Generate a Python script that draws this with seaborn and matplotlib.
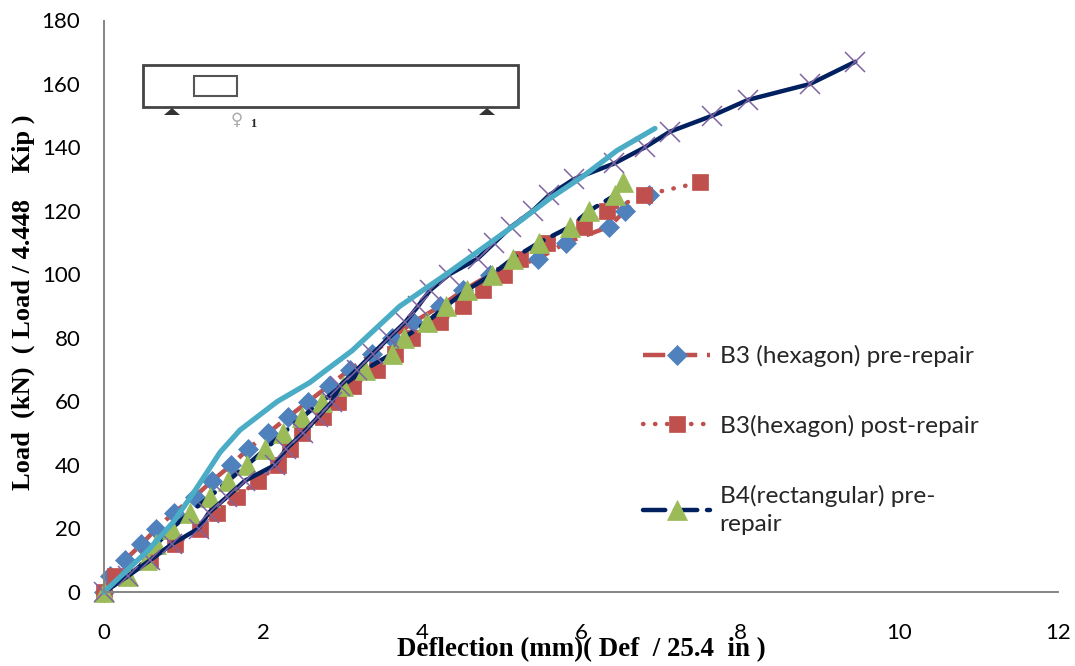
import matplotlib
matplotlib.use("Agg")
import matplotlib.pyplot as plt
import seaborn as sns
from matplotlib.patches import Polygon, Rectangle

# load steps are 5 kN up to the last reading
load_pre = [0, 5, 10, 15, 20, 25, 30, 35, 40, 45, 50, 55, 60, 65, 70, 75, 80, 85, 90, 95, 100, 105, 110, 115, 120, 125]
b3_pre_def = [0, 0.08, 0.26, 0.47, 0.66, 0.88, 1.14, 1.36, 1.6, 1.81, 2.06, 2.31, 2.57, 2.83, 3.09, 3.37, 3.62, 3.89, 4.23, 4.52, 4.86, 5.46, 5.81, 6.35, 6.55, 6.85]

load_post = [0, 5, 10, 15, 20, 25, 30, 35, 40, 45, 50, 55, 60, 65, 70, 75, 80, 85, 90, 95, 100, 105, 110, 115, 120, 125, 129]
b3_post_def = [0, 0.14, 0.58, 0.89, 1.21, 1.42, 1.67, 1.94, 2.19, 2.34, 2.49, 2.75, 2.94, 3.13, 3.43, 3.66, 3.87, 4.23, 4.52, 4.77, 5.03, 5.23, 5.57, 6.04, 6.33, 6.79, 7.5]

load_b4 = [0, 5, 10, 15, 20, 25, 30, 35, 40, 45, 50, 55, 60, 65, 70, 75, 80, 85, 90, 95, 100, 105, 110, 115, 120, 125, 129]
b4_pre_def = [0, 0.30, 0.54, 0.66, 0.85, 1.08, 1.33, 1.56, 1.8, 2.03, 2.25, 2.49, 2.74, 3.0, 3.28, 3.62, 3.77, 4.06, 4.3, 4.56, 4.88, 5.14, 5.47, 5.86, 6.1, 6.43, 6.53]

load_b4_post = [0, 5, 10, 15, 20, 25, 30, 35, 40, 45, 50, 55, 60, 65, 70, 75, 80, 85, 90, 95, 100, 105, 110, 115, 120, 125, 130, 135, 140, 145, 150, 155, 160, 167]
b4_post_def = [0, 0.30, 0.58, 0.85, 1.19, 1.32, 1.55, 1.77, 2.15, 2.29, 2.5, 2.69, 2.87, 2.97, 3.18, 3.38, 3.58, 3.79, 3.95, 4.1, 4.34, 4.7, 4.91, 5.12, 5.39, 5.6, 5.91, 6.42, 6.8, 7.12, 7.65, 8.1, 8.88, 9.45]

teal_load = [0, 13, 22, 31, 44, 51, 60, 66, 70, 76, 90, 100, 107, 116, 124, 131, 139, 146]
teal_def = [0, 0.55, 0.87, 1.12, 1.46, 1.71, 2.18, 2.59, 2.8, 3.12, 3.72, 4.3, 4.69, 5.19, 5.61, 6.03, 6.45, 6.93]

x_ticks = [0, 2, 4, 6, 8, 10, 12]
y_ticks = list(range(0, 181, 20))

sns.set_theme(style="white")
plt.rcParams['font.family'] = ['Lato', 'DejaVu Sans']

fig = plt.figure(figsize=(10.75, 6.66), dpi=100)
ax = fig.add_axes([104 / 1075, 1 - 592 / 666, 954 / 1075, 571.5 / 666])

red = "#C0504D"
navy = "#002060"

sns.lineplot(x=b3_pre_def, y=load_pre, ax=ax, sort=False, estimator=None, color=red, lw=3.2,
             marker="D", ms=10, mfc="#4F81BD", mec="#4F81BD", mew=0.5, dashes=(5, 2.2),
             label="B3 (hexagon) pre-repair", clip_on=False)
sns.lineplot(x=b3_post_def, y=load_post, ax=ax, sort=False, estimator=None, color=red, lw=3.2,
             marker="s", ms=11, mfc=red, mec=red, mew=0.5, dashes=(0.1, 2.6), dash_capstyle="round",
             label="B3(hexagon) post-repair", clip_on=False)
sns.lineplot(x=b4_pre_def, y=load_b4, ax=ax, sort=False, estimator=None, color=navy, lw=3.2,
             marker="^", ms=15, mfc="#9BBB59", mec="#9BBB59", mew=0.5, dashes=(5, 2.2), dash_capstyle="round",
             label="B4(rectangular) pre-\nrepair", clip_on=False)
sns.lineplot(x=b4_post_def, y=load_b4_post, ax=ax, sort=False, estimator=None, color=navy, lw=3.2,
             marker="x", ms=14, mec="#8064A2", mew=1.1, label="_b4 post", clip_on=False)
sns.lineplot(x=teal_def, y=teal_load, ax=ax, sort=False, estimator=None, color="#4BACC6", lw=3.8,
             label="_teal", clip_on=False)

ax.set_xlim(0, 12)
ax.set_ylim(0, 180)
ax.set_xticks(x_ticks)
ax.set_yticks(y_ticks)
ax.tick_params(axis="x", length=0, pad=22, labelsize=16, colors="black")
ax.tick_params(axis="y", length=0, pad=17, labelsize=16, colors="black")
sns.despine(ax=ax)
for s in ["left", "bottom"]:
    ax.spines[s].set_color("#868686")
    ax.spines[s].set_linewidth(1.4)

serif = ["Liberation Serif", "DejaVu Serif"]
fig.text(581 / 1075, 1 - 650 / 666, "Deflection (mm)( Def  / 25.4  in )", family=serif, weight="bold",
         fontsize=19.4, ha="center", va="center", color="black")
fig.text(23 / 1075, 1 - 302 / 666, "Load  (kN)  ( Load / 4.448    Kip )", family=serif, weight="bold",
         fontsize=19, rotation=90, ha="center", va="center", color="black")

leg = ax.legend(loc="upper left", bbox_to_anchor=(643 / 1075, 1 - 345 / 666), bbox_transform=fig.transFigure,
                frameon=False, fontsize=17.6, labelspacing=1.95, handlelength=2.75, handletextpad=0.38,
                borderpad=0, borderaxespad=0)
for t in leg.get_texts():
    t.set_linespacing(1.45)

# beam sketch in the upper left corner, placed in figure pixels
def px(x, y):
    return x / 1075, 1 - y / 666

tf = fig.transFigure
fig.add_artist(Rectangle(px(142.5, 107), 375 / 1075, 42 / 666, transform=tf, fill=False, ec="#444444", lw=2))
fig.add_artist(Rectangle(px(194, 96), 43 / 1075, 20 / 666, transform=tf, fill=False, ec="#555555", lw=1.5))
for cx in [172, 487]:
    fig.add_artist(Polygon([px(cx - 8, 115), px(cx + 8, 115), px(cx, 108)], transform=tf, fc="#333333", ec="none"))
fig.text(*px(237, 120), "\u2640", color="#aaaaaa", fontsize=12, ha="center", va="center", family="DejaVu Sans")
fig.text(*px(253, 124), "1", family=serif, weight="bold", fontsize=9, ha="center", va="center", color="#222222")

fig.savefig("out.png", dpi=100)
